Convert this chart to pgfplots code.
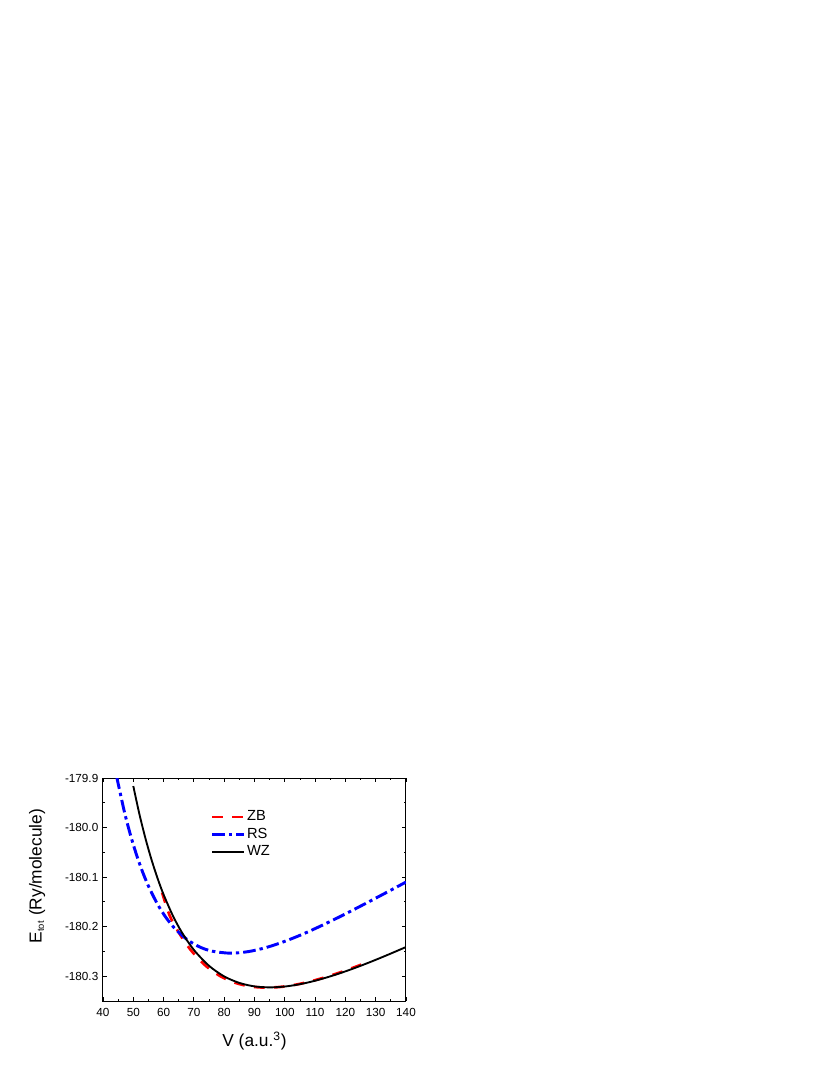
\documentclass[border=0pt]{standalone}
\usepackage{fontspec}
\setmainfont{Liberation Sans}
\usepackage{pgfplots}
\pgfplotsset{compat=1.18}
\begin{document}
\begin{tikzpicture}
\useasboundingbox (-77.25pt,-55.5pt) rectangle (545.25pt,750.75pt);
\begin{axis}[
  at={(0pt,0pt)}, anchor=south west,
  scale only axis, width=227.25pt, height=167.25pt,
  xmin=40, xmax=140, ymin=-180.35, ymax=-179.9,
  xtick={40,50,...,140},
  ytick={-180.3,-180.2,-180.1,-180.0,-179.9},
  minor x tick num=1, minor y tick num=1,
  tick align=inside,
  major tick length=3pt, minor tick length=1.6pt,
  axis line style={line width=0.75pt},
  every tick/.style={line width=0.6pt, black},
  /pgf/number format/assume math mode=true,
  ticklabel style={font=\fontsize{8.8}{10}\selectfont},
  yticklabel style={/pgf/number format/.cd, fixed, fixed zerofill, precision=1},
  xticklabel style={yshift=-2pt, /pgf/number format/.cd, fixed, precision=0, 1000 sep={}},
  xlabel={V (a.u.\textsuperscript{3})},
  ylabel={E\textsubscript{\fontsize{7}{7}\selectfont tot} (Ry/molecule)},
  label style={font=\fontsize{13}{15}\selectfont},
  xlabel style={yshift=-5pt},
  ylabel style={xshift=10pt, yshift=8pt},
  legend image code/.code={\draw[#1] (0pt,0pt) -- (24pt,0pt);},
  legend style={at={(axis cs:75.5,-179.962)}, anchor=north west, draw=none, fill=none,
    font=\fontsize{11}{13}\selectfont, inner sep=0pt, row sep=1pt,
    nodes={inner sep=1pt, text height=8pt, text depth=2pt}},
  legend cell align=left,
]
\addplot[red, line width=2pt, dash pattern=on 8pt off 7pt, smooth] coordinates {
(59.5,-180.131) (62,-180.1776) (65,-180.2117) (69,-180.2474) (74,-180.2795) (79,-180.3009)
(84,-180.3140) (89,-180.3210) (94,-180.3230) (99,-180.3213) (104,-180.3166) (109,-180.3096)
(114,-180.3008) (119,-180.2907) (124,-180.2795) (127,-180.2722)
};
\addlegendentry{ZB}
\addplot[blue, line width=2.2pt, dash pattern=on 9.5pt off 3pt on 2.5pt off 3pt, smooth] coordinates {
(44.5,-179.8970) (47,-179.9666) (49,-180.0135) (51,-180.0538) (53,-180.0885) (55,-180.1181)
(58,-180.1547) (61,-180.1834) (64,-180.2056) (68,-180.2271) (72,-180.2412) (76,-180.2494)
(82,-180.2535) (88,-180.2503) (94,-180.2418) (100,-180.2296) (106,-180.2149) (112,-180.1982)
(118,-180.1804) (124,-180.1617) (130,-180.1425) (135,-180.1263) (140,-180.1100)
};
\addlegendentry{RS}
\addplot[black, line width=1.4pt, smooth] coordinates {
(50,-179.9163) (52,-179.9725) (54,-180.0216) (56,-180.0646) (58,-180.1023) (60,-180.1352)
(63,-180.1771) (66,-180.2112) (70,-180.2469) (75,-180.2790) (80,-180.3004) (85,-180.3135)
(90,-180.3205) (95,-180.3225) (100,-180.3208) (105,-180.3161) (110,-180.3091) (115,-180.3003)
(120,-180.2902) (125,-180.2790) (130,-180.2669) (135,-180.2542) (140,-180.2411)
};
\addlegendentry{WZ}
\end{axis}
\end{tikzpicture}
\end{document}
